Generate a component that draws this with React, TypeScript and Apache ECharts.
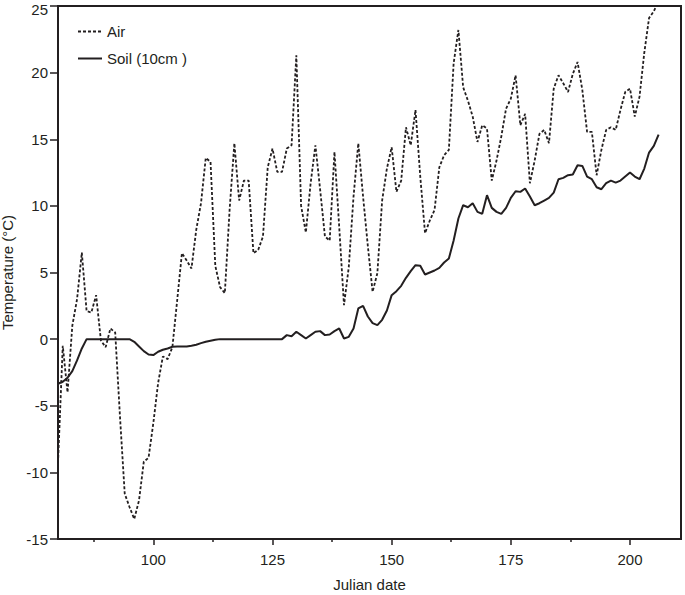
import { useEffect, useRef } from "react";
import * as echarts from "echarts";

// Julian day of the first value in each series (one value per day)
const startDay = 80;

const seriesNames = ["Air", "Soil (10cm )"];

// Air temperature (°C), days 80 .. 206
const airTemp = [
  -9.3, -0.5, -4.0, 1.0, 3.0, 6.5, 2.1, 2.0, 3.3, -0.1,
  -0.6, 0.8, 0.5, -5.8, -11.6, -12.6, -13.5, -12.1, -9.2, -8.9,
  -6.3, -3.3, -1.3, -1.5, -0.6, 2.9, 6.45, 5.9, 5.3, 8.2,
  10.2, 13.6, 13.3, 5.5, 3.9, 3.45, 9.7, 14.7, 10.4, 11.9,
  11.9, 6.45, 6.7, 7.7, 12.9, 14.3, 12.55, 12.55, 14.3, 14.55,
  21.3, 10.0, 8.0, 11.7, 14.55, 11.2, 7.7, 7.4, 14.05, 8.4,
  2.55, 5.4, 10.7, 14.7, 10.7, 7.0, 3.55, 4.95, 10.4, 12.8,
  14.4, 11.05, 11.9, 15.9, 14.55, 17.2, 12.2, 7.95, 8.9, 9.7,
  12.9, 13.8, 14.2, 20.7, 23.2, 18.9, 17.9, 16.7, 14.8, 16.05,
  15.8, 11.9, 13.4, 15.2, 17.3, 18.05, 19.8, 16.05, 16.9, 11.7,
  13.4, 15.4, 15.7, 14.7, 18.8, 19.8, 19.2, 18.55, 19.9, 20.8,
  18.7, 15.55, 15.55, 12.3, 14.2, 15.7, 15.9, 15.7, 17.2, 18.55,
  18.8, 16.7, 18.2, 21.5, 24.1, 24.6, 25.4,
];

// Soil temperature at 10 cm (°C), days 80 .. 206
const soilTemp = [
  -3.35, -3.2, -2.9, -2.4, -1.6, -0.7, 0, 0, 0, 0,
  0, 0, 0, 0, 0, 0, -0.2, -0.55, -0.9, -1.15,
  -1.2, -0.95, -0.8, -0.7, -0.57, -0.55, -0.55, -0.55, -0.5, -0.42,
  -0.3, -0.2, -0.12, -0.05, 0, 0, 0, 0, 0, 0,
  0, 0, 0, 0, 0, 0, 0, 0, 0.3, 0.22,
  0.55, 0.3, 0.05, 0.3, 0.55, 0.6, 0.3, 0.35, 0.6, 0.8,
  0.05, 0.17, 0.8, 2.3, 2.5, 1.7, 1.2, 1.05, 1.45, 2.15,
  3.3, 3.6, 4.0, 4.6, 5.1, 5.55, 5.5, 4.85, 5.0, 5.15,
  5.35, 5.75, 6.05, 7.4, 9.05, 10.05, 9.9, 10.2, 9.55, 9.4,
  10.8, 9.85, 9.55, 9.4, 9.85, 10.6, 11.1, 11.05, 11.3, 10.7,
  10.05, 10.2, 10.4, 10.6, 11.0, 12.0, 12.1, 12.3, 12.35, 13.05,
  13.0, 12.2, 12.0, 11.4, 11.25, 11.7, 11.9, 11.75, 11.9, 12.2,
  12.5, 12.2, 12.0, 12.8, 14.0, 14.5, 15.35,
];

const xMin = 80;
const xMax = 210.7;
const xTickValues = [100, 125, 150, 175, 200];
const xMinorTickValues = [87.5, 112.5, 137.5, 162.5, 187.5];

const yMin = -15;
const yMax = 25;
const yInterval = 5;

export default function App() {
  const ref = useRef<HTMLDivElement>(null);

  useEffect(() => {
    if (!ref.current) return;
    const chart = echarts.init(ref.current, null, { renderer: "svg" });
    const font = "'Liberation Sans', Arial, Helvetica, sans-serif";
    const ink = "#231f20";
    const toPairs = (vals: number[]) => vals.map((v, i) => [startDay + i, v]);

    chart.setOption({
      animation: false,
      backgroundColor: "#ffffff",
      grid: {
        left: 58,
        right: 4,
        top: 6,
        bottom: 56,
        show: true,
        borderColor: ink,
        borderWidth: 2,
        backgroundColor: "transparent",
        containLabel: false,
        outerBoundsMode: "none",
      },
      legend: {
        orient: "vertical",
        left: 72,
        top: 19,
        itemWidth: 24,
        itemHeight: 14,
        itemGap: 12,
        data: seriesNames,
        itemStyle: { opacity: 0 },
        textStyle: { fontSize: 15, color: ink, fontFamily: font },
      },
      xAxis: [
        {
          type: "value",
          min: xMin,
          max: xMax,
          name: "Julian date",
          nameLocation: "middle",
          nameGap: 38,
          nameTextStyle: { fontSize: 15, color: ink, fontFamily: font },
          axisLine: { show: true, onZero: false, lineStyle: { color: ink, width: 2 } },
          axisTick: {
            show: true,
            customValues: xTickValues,
            length: 6,
            lineStyle: { color: ink, width: 1.5 },
          },
          axisLabel: {
            customValues: xTickValues,
            margin: 13,
            fontSize: 15,
            color: ink,
            fontFamily: font,
          },
          splitLine: { show: false },
        },
        {
          type: "value",
          min: xMin,
          max: xMax,
          position: "bottom",
          axisLine: { show: false, onZero: false },
          axisTick: {
            show: true,
            customValues: xMinorTickValues,
            length: 3,
            lineStyle: { color: ink, width: 1.5 },
          },
          axisLabel: { show: false },
          splitLine: { show: false },
        },
      ],
      yAxis: {
        type: "value",
        min: yMin,
        max: yMax,
        interval: yInterval,
        name: "Temperature (°C)",
        nameLocation: "middle",
        nameGap: 42,
        nameTextStyle: { fontSize: 15, color: ink, fontFamily: font },
        axisLine: { show: true, onZero: false, lineStyle: { color: ink, width: 2 } },
        axisTick: { show: true, length: 8, lineStyle: { color: ink, width: 1.5 } },
        axisLabel: {
          margin: 10,
          fontSize: 15,
          color: ink,
          fontFamily: font,
          formatter: (v: number) => (v === yMax ? "{top|" + v + "}" : String(v)),
          rich: {
            top: { fontSize: 15, color: ink, fontFamily: font, padding: [6, 0, 0, 0] },
          },
        },
        splitLine: { show: false },
      },
      series: [
        {
          name: seriesNames[0],
          type: "line",
          data: toPairs(airTemp),
          showSymbol: false,
          symbol: "none",
          clip: true,
          lineStyle: { color: ink, width: 1.8, type: [3, 2] },
          itemStyle: { color: ink },
        },
        {
          name: seriesNames[1],
          type: "line",
          data: toPairs(soilTemp),
          showSymbol: false,
          symbol: "none",
          clip: true,
          lineStyle: { color: ink, width: 2 },
          itemStyle: { color: ink },
        },
      ],
    });

    return () => chart.dispose();
  }, []);

  return (
    <div
      ref={ref}
      style={{ position: "absolute", left: 0, top: 0, width: 685, height: 595 }}
    />
  );
}
